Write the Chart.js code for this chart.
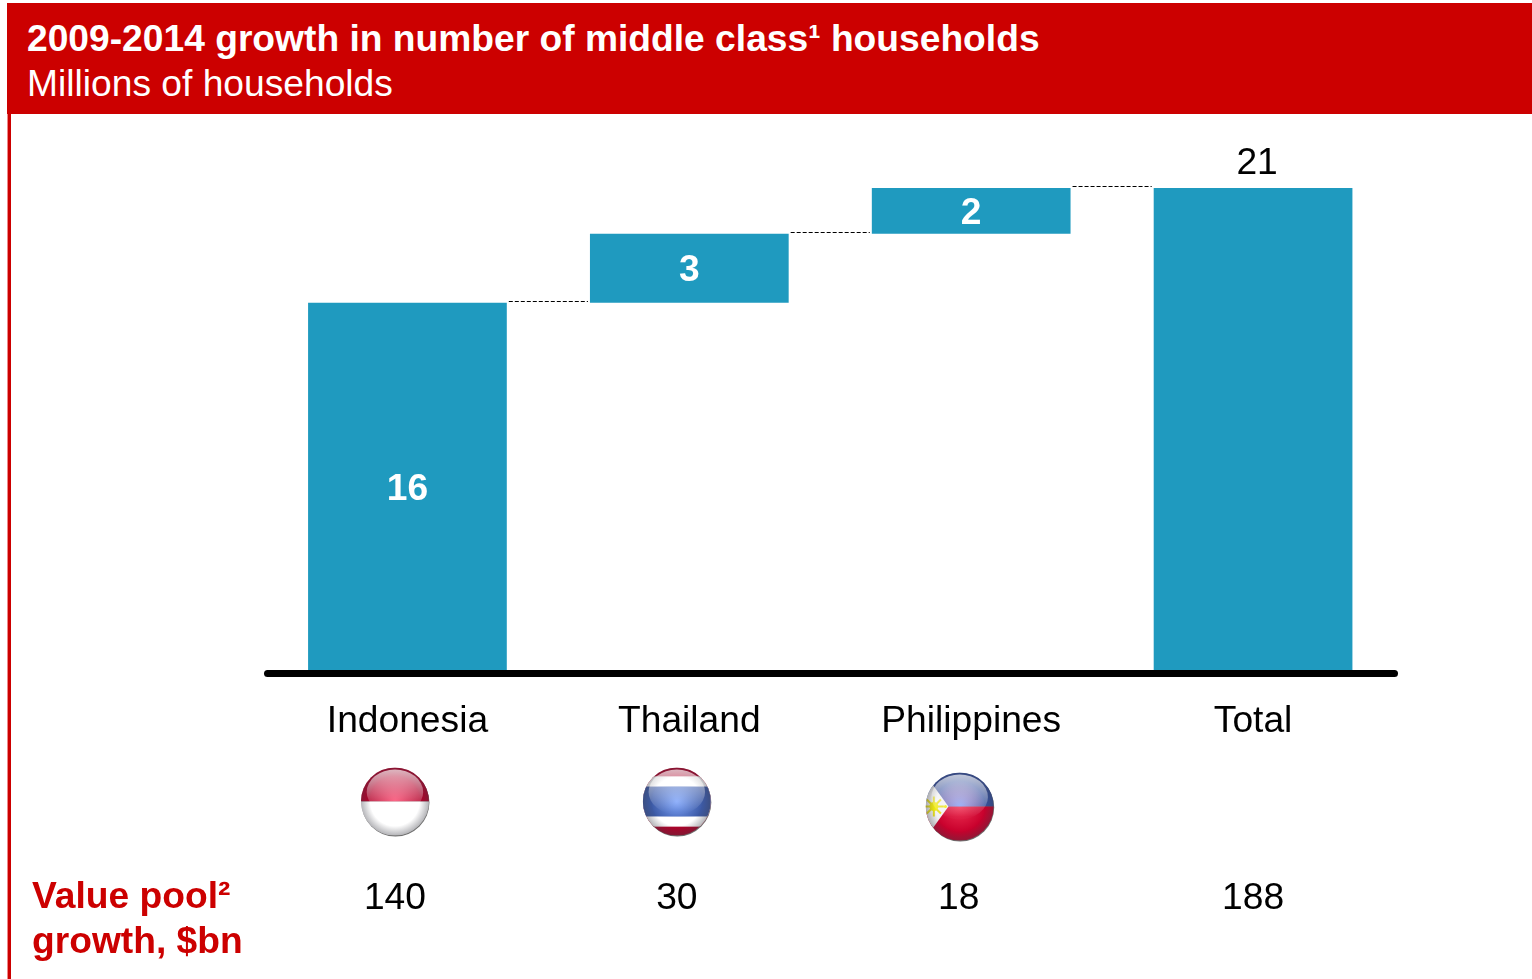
<!DOCTYPE html>
<html>
<head>
<meta charset="utf-8">
<title>Middle class household growth</title>
<script src="https://cdn.jsdelivr.net/npm/chart.js@4"></script>
<style>
  html, body { margin: 0; padding: 0; background: #fff; overflow: hidden; }
  body { width: 1532px; height: 979px; position: relative; font-family: "Liberation Sans", Arial, sans-serif; }
  #header { position: absolute; left: 7px; top: 3px; width: 1525px; height: 111px; background: #cc0000; color: #fff; }
  #header div { position: absolute; left: 20px; font-size: 37.2px; line-height: 44px; white-space: nowrap; }
  #title { top: 13px; font-weight: bold; }
  #subtitle { top: 58px; }
  #leftRule { position: absolute; left: 7px; top: 114px; width: 3px; height: 865px; background: #cc0000; border-left: 1px solid #e88; }
  #chart { position: absolute; left: 0; top: 0; }
</style>
</head>
<body>
<div id="header">
  <div id="title">2009-2014 growth in number of middle class¹ households</div>
  <div id="subtitle">Millions of households</div>
</div>
<div id="leftRule"></div>
<canvas id="chart" width="1532" height="979"></canvas>
<script>
const categories = ["Indonesia", "Thailand", "Philippines", "Total"];
const households = [16, 3, 2, 21];
const valuePool = [140, 30, 18, 188];
const valuePoolTitle = ["Value pool²", "growth, $bn"];

const BAR_COLOR = "#1f9abf";
const RED = "#cc0000";
const FONT = '"Liberation Sans", Arial, sans-serif';
const TEXT_SIZE = 37.2;

// waterfall: each country starts where the previous one ended, Total starts at 0
const floating = [];
let running = 0;
households.forEach((v, i) => {
  if (i === households.length - 1) {
    floating.push([0, v]);
  } else {
    floating.push([running, running + v]);
    running += v;
  }
});

// -------------------------------
// FLAGS
// -------------------------------
function withSphere(ctx, cx, cy, r, paint) {
  // soft shadow under the ball
  ctx.save();
  ctx.beginPath();
  ctx.arc(cx + 0.5, cy + 1, r, 0, Math.PI * 2);
  ctx.fillStyle = "#6e6e6e";
  ctx.fill();
  ctx.restore();

  ctx.save();
  ctx.beginPath();
  ctx.arc(cx, cy, r, 0, Math.PI * 2);
  ctx.clip();
  paint();

  // darker rim
  const rim = ctx.createRadialGradient(cx, cy, r * 0.72, cx, cy, r);
  rim.addColorStop(0, "rgba(60,60,70,0)");
  rim.addColorStop(1, "rgba(60,60,70,0.38)");
  ctx.fillStyle = rim;
  ctx.fillRect(cx - r, cy - r, r * 2, r * 2);

  // glass highlight on the upper half
  ctx.beginPath();
  ctx.ellipse(cx, cy - r * 0.28, r * 0.83, r * 0.66, 0, 0, Math.PI * 2);
  ctx.clip();
  const glass = ctx.createLinearGradient(0, cy - r, 0, cy + r * 0.3);
  glass.addColorStop(0, "rgba(255,255,255,0.72)");
  glass.addColorStop(1, "rgba(255,255,255,0.02)");
  ctx.fillStyle = glass;
  ctx.fillRect(cx - r, cy - r, r * 2, r * 2);
  ctx.restore();
}

function centerGlow(ctx, cx, cy, r, color) {
  const g = ctx.createRadialGradient(cx, cy, 0, cx, cy, r * 0.75);
  g.addColorStop(0, color);
  g.addColorStop(1, color.replace(/[\d.]+\)$/, "0)"));
  ctx.fillStyle = g;
  ctx.fillRect(cx - r, cy - r, r * 2, r * 2);
}

function drawIndonesia(ctx, cx, cy, r) {
  withSphere(ctx, cx, cy, r, () => {
    ctx.fillStyle = "#b30029";
    ctx.fillRect(cx - r, cy - r, r * 2, r);
    ctx.save();
    ctx.beginPath();
    ctx.rect(cx - r, cy - r, r * 2, r);
    ctx.clip();
    centerGlow(ctx, cx, cy, r, "rgba(255,70,110,0.95)");
    ctx.restore();
    ctx.fillStyle = "#ffffff";
    ctx.fillRect(cx - r, cy, r * 2, r);
  });
}

function drawThailand(ctx, cx, cy, r) {
  withSphere(ctx, cx, cy, r, () => {
    ctx.fillStyle = "#b00028";
    ctx.fillRect(cx - r, cy - r, r * 2, r * 2);
    ctx.fillStyle = "#ffffff";
    ctx.fillRect(cx - r, cy - r * 0.74, r * 2, r * 1.48);
    ctx.fillStyle = "#3c5aa6";
    ctx.fillRect(cx - r, cy - r * 0.44, r * 2, r * 0.88);
    ctx.save();
    ctx.beginPath();
    ctx.rect(cx - r, cy - r * 0.44, r * 2, r * 0.88);
    ctx.clip();
    centerGlow(ctx, cx, cy, r, "rgba(125,165,255,0.95)");
    ctx.restore();
  });
}

function drawPhilippines(ctx, cx, cy, r) {
  withSphere(ctx, cx, cy, r, () => {
    ctx.fillStyle = "#34509f";
    ctx.fillRect(cx - r, cy - r, r * 2, r);
    ctx.fillStyle = "#c8002c";
    ctx.fillRect(cx - r, cy, r * 2, r);
    centerGlow(ctx, cx, cy, r, "rgba(255,70,100,0.7)");
    ctx.save();
    ctx.beginPath();
    ctx.rect(cx - r, cy - r, r * 2, r);
    ctx.clip();
    centerGlow(ctx, cx, cy, r, "rgba(125,165,255,0.95)");
    ctx.restore();
    // white hoist triangle
    ctx.beginPath();
    ctx.moveTo(cx - r * 1.05, cy - r * 1.0);
    ctx.lineTo(cx - r * 0.33, cy);
    ctx.lineTo(cx - r * 1.05, cy + r * 1.0);
    ctx.closePath();
    ctx.fillStyle = "#f2f2f2";
    ctx.fill();
    // sun
    const sx = cx - r * 0.76;
    ctx.strokeStyle = "#e8e020";
    ctx.lineWidth = 2;
    for (let a = 0; a < 8; a++) {
      const t = a * Math.PI / 4;
      ctx.beginPath();
      ctx.moveTo(sx, cy);
      ctx.lineTo(sx + Math.cos(t) * 10, cy + Math.sin(t) * 10);
      ctx.stroke();
    }
    ctx.beginPath();
    ctx.arc(sx, cy, 4.5, 0, Math.PI * 2);
    ctx.fillStyle = "#f0ea10";
    ctx.fill();
    // star near the tip
    ctx.beginPath();
    ctx.arc(cx - r * 0.42, cy, 1.5, 0, Math.PI * 2);
    ctx.fill();
  });
}

// -------------------------------
// CUSTOM DRAWING ON THE CHART
// -------------------------------
const waterfallExtras = {
  id: "waterfallExtras",
  afterDatasetsDraw(chart) {
    const { ctx, chartArea, scales: { x, y } } = chart;
    const halfBar = chart.getDatasetMeta(0).data[0].width / 2;

    // connectors between the steps
    ctx.save();
    ctx.strokeStyle = "#000";
    ctx.lineWidth = 1;
    ctx.setLineDash([4, 2]);
    for (let i = 0; i < floating.length - 1; i++) {
      const py = Math.round(y.getPixelForValue(floating[i][1])) - 1.5;
      ctx.beginPath();
      ctx.moveTo(x.getPixelForValue(i) + halfBar + 2, py);
      ctx.lineTo(x.getPixelForValue(i + 1) - halfBar - 2, py);
      ctx.stroke();
    }
    ctx.restore();

    // thick baseline with round ends
    ctx.save();
    ctx.strokeStyle = "#000";
    ctx.lineWidth = 7;
    ctx.lineCap = "round";
    ctx.beginPath();
    ctx.moveTo(chartArea.left + 1, chartArea.bottom + 3.5);
    ctx.lineTo(chartArea.right + 0.5, chartArea.bottom + 3.5);
    ctx.stroke();
    ctx.restore();

    // value labels
    ctx.save();
    ctx.textAlign = "center";
    ctx.textBaseline = "middle";
    households.forEach((v, i) => {
      const [lo, hi] = floating[i];
      if (i === households.length - 1) {
        ctx.font = TEXT_SIZE + "px " + FONT;
        ctx.fillStyle = "#000";
        ctx.fillText(String(v), x.getPixelForValue(i) + 4, y.getPixelForValue(hi) - 24);
      } else {
        ctx.font = "bold " + TEXT_SIZE + "px " + FONT;
        ctx.fillStyle = "#fff";
        ctx.fillText(String(v), x.getPixelForValue(i), (y.getPixelForValue(lo) + y.getPixelForValue(hi)) / 2 + 3);
      }
    });
    ctx.restore();

    // flags under the country names
    const flagX = i => x.getPixelForValue(i) - 12.5;
    const flagY = chartArea.bottom + 131.5;
    drawIndonesia(ctx, flagX(0), flagY, 34);
    drawThailand(ctx, flagX(1), flagY, 34);
    drawPhilippines(ctx, flagX(2) + 1, flagY + 5, 34);

    // value pool row
    ctx.save();
    ctx.font = TEXT_SIZE + "px " + FONT;
    ctx.fillStyle = "#000";
    ctx.textAlign = "center";
    ctx.textBaseline = "middle";
    valuePool.forEach((v, i) => {
      const off = i === valuePool.length - 1 ? 0 : -12.5;
      ctx.fillText(String(v), x.getPixelForValue(i) + off, chartArea.bottom + 229);
    });
    ctx.font = "bold " + TEXT_SIZE + "px " + FONT;
    ctx.fillStyle = RED;
    ctx.textAlign = "left";
    valuePoolTitle.forEach((line, i) => {
      ctx.fillText(line, 32, chartArea.bottom + 228 + i * 45);
    });
    ctx.restore();
  }
};

new Chart(document.getElementById("chart"), {
  type: "bar",
  data: {
    labels: categories,
    datasets: [{
      data: floating,
      backgroundColor: BAR_COLOR,
      borderWidth: 0,
      barPercentage: 0.705,
      categoryPercentage: 1
    }]
  },
  options: {
    responsive: false,
    animation: false,
    layout: { padding: { left: 266.5, right: 138, top: 119, bottom: 0 } },
    plugins: { legend: { display: false }, tooltip: { enabled: false } },
    scales: {
      x: {
        grid: { display: false },
        border: { display: false },
        afterFit(scale) { scale.height = 309; },
        ticks: {
          color: "#000",
          padding: 21,
          maxRotation: 0,
          font: { family: FONT, size: TEXT_SIZE }
        }
      },
      y: { display: false, min: 0, max: 24 }
    }
  },
  plugins: [waterfallExtras]
});
</script>
</body>
</html>
